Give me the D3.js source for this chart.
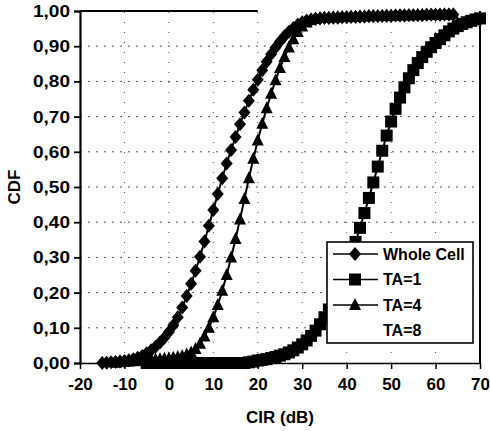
<!DOCTYPE html>
<html>
<head>
<meta charset="utf-8">
<script src="https://cdn.jsdelivr.net/npm/d3@7"></script>
<style>
  html, body { margin: 0; padding: 0; background: #fff; }
  #chart { width: 490px; height: 431px; }
  text { font-family: "Liberation Sans", Arial, sans-serif; fill: #000; }
</style>
</head>
<body>
<div id="chart"></div>
<script>
// === Data (CDF per 1 dB step) ===
const CIR_TICKS = [-20, -10, 0, 10, 20, 30, 40, 50, 60, 70];
const CDF_TICKS = [0, 0.1, 0.2, 0.3, 0.4, 0.5, 0.6, 0.7, 0.8, 0.9, 1.0];

// Whole Cell: from -15 dB
const WHOLE_START = -15;
const wholeCell = [
  0.000, 0.001, 0.002, 0.003, 0.004, 0.006, 0.008, 0.011, 0.015, 0.020,
  0.028, 0.036, 0.046, 0.058, 0.072, 0.088, 0.107, 0.130, 0.158, 0.190,
  0.225, 0.262, 0.302, 0.345, 0.390, 0.435, 0.480, 0.525, 0.567, 0.605,
  0.642, 0.678, 0.712, 0.745, 0.776, 0.805, 0.832, 0.856, 0.877, 0.896,
  0.913, 0.928, 0.941, 0.952, 0.961, 0.968, 0.973, 0.976, 0.978, 0.979,
  0.980, 0.980, 0.981, 0.981, 0.982, 0.982, 0.983, 0.983, 0.984, 0.984,
  0.985, 0.985, 0.985, 0.986, 0.986, 0.986, 0.987, 0.987, 0.987, 0.988,
  0.988, 0.988, 0.988, 0.989, 0.989, 0.989, 0.989, 0.990, 0.990, 0.990
];

// TA=1: from -5 dB
const TA1_START = -5;
const ta1 = [
  0.000, 0.000, 0.000, 0.000, 0.000, 0.000, 0.000, 0.000, 0.000, 0.000,
  0.000, 0.000, 0.000, 0.000, 0.000, 0.000, 0.000, 0.000, 0.000, 0.000,
  0.000, 0.000, 0.000, 0.002, 0.004, 0.007, 0.009, 0.011, 0.014, 0.017,
  0.021, 0.025, 0.030, 0.036, 0.044, 0.053, 0.064, 0.077, 0.092, 0.110,
  0.130, 0.152, 0.177, 0.205, 0.236, 0.270, 0.306, 0.344, 0.384, 0.426,
  0.469, 0.513, 0.558, 0.603, 0.646, 0.686, 0.722, 0.754, 0.783, 0.809,
  0.832, 0.852, 0.869, 0.884, 0.897, 0.909, 0.920, 0.931, 0.942, 0.950,
  0.957, 0.963, 0.968, 0.972, 0.976, 0.979
];

// TA=4: from -12 dB
const TA4_START = -12;
const ta4 = [
  0.001, 0.002, 0.003, 0.004, 0.005, 0.006, 0.007, 0.008, 0.009, 0.010,
  0.011, 0.012, 0.013, 0.015, 0.017, 0.020, 0.024, 0.030, 0.040, 0.055,
  0.075, 0.100, 0.130, 0.165, 0.205, 0.250, 0.300, 0.352, 0.408, 0.466,
  0.525, 0.580, 0.632, 0.680, 0.724, 0.765, 0.803, 0.838, 0.869, 0.896,
  0.920, 0.940, 0.956, 0.967, 0.974, 0.978, 0.980, 0.981, 0.981, 0.982,
  0.982, 0.983, 0.983, 0.984, 0.984, 0.985, 0.985, 0.985, 0.986, 0.986,
  0.986, 0.987, 0.987, 0.987, 0.988, 0.988, 0.988, 0.988, 0.989, 0.989,
  0.989, 0.989, 0.990, 0.990, 0.990, 0.990, 0.990
];

const SERIES = [
  { name: "Whole Cell", start: WHOLE_START, values: wholeCell, marker: "diamond" },
  { name: "TA=1",       start: TA1_START,   values: ta1,       marker: "square" },
  { name: "TA=4",       start: TA4_START,   values: ta4,       marker: "triangle" },
  { name: "TA=8",       start: 0,           values: [],        marker: "none" }
];

// === Render ===
const W = 490, H = 431;
const svg = d3.select("#chart").append("svg").attr("width", W).attr("height", H);

const x = d3.scaleLinear().domain([-20, 70]).range([80, 480]);
const y = d3.scaleLinear().domain([0, 1]).range([363, 11]);

// grid
const grid = svg.append("g").attr("stroke", "#555").attr("stroke-width", 1);
grid.selectAll("line.h")
  .data(CDF_TICKS.filter(d => d > 0 && d < 1))
  .join("line")
    .attr("x1", x(-20)).attr("x2", x(70))
    .attr("y1", d => y(d)).attr("y2", d => y(d))
    .attr("stroke-dasharray", "2,6");
grid.selectAll("line.v")
  .data(CIR_TICKS.filter(d => d > -20 && d < 70))
  .join("line")
    .attr("x1", d => x(d)).attr("x2", d => x(d))
    .attr("y1", y(0)).attr("y2", y(1))
    .attr("stroke-dasharray", "1,9");

// border pieces (the scanned frame only shows top-left part and the right side)
svg.append("line")
  .attr("x1", x(-20)).attr("x2", x(20)).attr("y1", y(1)).attr("y2", y(1))
  .attr("stroke", "#000").attr("stroke-width", 2);
svg.append("line")
  .attr("x1", x(70)).attr("x2", x(70)).attr("y1", y(1)).attr("y2", y(0))
  .attr("stroke", "#000").attr("stroke-width", 2);

// axes
const yAxis = d3.axisLeft(y).tickValues(CDF_TICKS).tickSize(6).tickPadding(4)
  .tickFormat(d => d3.format(".2f")(d).replace(".", ","));
const gy = svg.append("g").attr("transform", `translate(${x(-20)},0)`).call(yAxis);
gy.select(".domain").attr("stroke-width", 2.2);
gy.selectAll(".tick line").attr("stroke-width", 1.8);
gy.selectAll(".tick text")
  .attr("font-size", 17).attr("font-weight", "bold")
  .attr("font-family", "Liberation Sans, Arial, sans-serif")
  .attr("textLength", 37).attr("lengthAdjust", "spacingAndGlyphs");

const xAxis = d3.axisBottom(x).tickValues(CIR_TICKS).tickSize(6).tickPadding(9).tickSizeOuter(0)
  .tickFormat(d => String(d));
const gx = svg.append("g").attr("transform", `translate(0,${y(0)})`).call(xAxis);
gx.select(".domain").attr("stroke-width", 1.5);
gx.selectAll(".tick line").attr("stroke-width", 1.5);
gx.selectAll(".tick text")
  .attr("font-size", 17).attr("font-weight", "bold")
  .attr("font-family", "Liberation Sans, Arial, sans-serif");

// axis titles
svg.append("text")
  .attr("transform", `translate(14,${(y(0) + y(1)) / 2}) rotate(-90)`)
  .attr("text-anchor", "middle").attr("dominant-baseline", "central")
  .attr("font-size", 17).attr("font-weight", "bold")
  .text("CDF");
svg.append("text")
  .attr("x", (x(-20) + x(70)) / 2).attr("y", 423)
  .attr("text-anchor", "middle")
  .attr("font-size", 17).attr("font-weight", "bold")
  .text("CIR (dB)");

// markers
function markerPath(type) {
  if (type === "diamond") return "M0,-7L6,0L0,7L-6,0Z";
  if (type === "triangle") return "M0,-7L6,5L-6,5Z";
  if (type === "square") return "M-6,-6H6V6H-6Z";
  return "";
}

const line = d3.line().x(d => x(d.cir)).y(d => y(d.cdf));
const plot = svg.append("g");

SERIES.filter(s => s.values.length).forEach(s => {
  const pts = s.values.map((v, i) => ({ cir: s.start + i, cdf: v }));
  const g = plot.append("g");
  g.append("path")
    .attr("d", line(pts))
    .attr("fill", "none").attr("stroke", "#000").attr("stroke-width", 2);
  g.selectAll("path.m")
    .data(pts)
    .join("path")
      .attr("class", "m")
      .attr("transform", d => `translate(${x(d.cir)},${y(d.cdf)})`)
      .attr("d", markerPath(s.marker))
      .attr("fill", "#000");
});

// legend
const lg = svg.append("g").attr("transform", "translate(327,242)");
lg.append("rect")
  .attr("width", 146).attr("height", 101)
  .attr("fill", "#fff").attr("stroke", "#000").attr("stroke-width", 1.6);
const rows = lg.selectAll("g.row")
  .data(SERIES)
  .join("g")
    .attr("class", "row")
    .attr("transform", (d, i) => `translate(0,${12 + i * 25.5})`);
rows.filter(d => d.marker !== "none").append("line")
  .attr("x1", 6).attr("x2", 51).attr("y1", 0).attr("y2", 0)
  .attr("stroke", "#000").attr("stroke-width", 1.6);
rows.filter(d => d.marker !== "none").append("path")
  .attr("transform", "translate(28,0)")
  .attr("d", d => markerPath(d.marker))
  .attr("fill", "#000");
rows.append("text")
  .attr("x", 56).attr("y", 0).attr("dy", "0.36em")
  .attr("font-size", 16).attr("font-weight", "bold")
  .text(d => d.name);
</script>
</body>
</html>
